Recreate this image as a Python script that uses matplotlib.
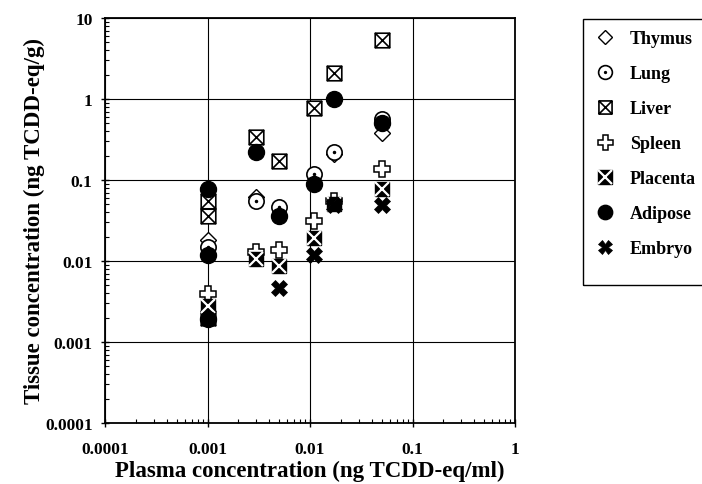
"""Tissue vs plasma TCDD-eq concentration, log-log scatter by tissue."""

import matplotlib

matplotlib.use("Agg")
import matplotlib.pyplot as plt
from matplotlib.patches import Rectangle
from matplotlib.path import Path

# plasma concentration (ng TCDD-eq/ml) and tissue concentration (ng TCDD-eq/g)
thymus_x = [0.001, 0.003, 0.017, 0.05]
thymus_y = [0.018, 0.062, 0.21, 0.38]

lung_x = [0.001, 0.003, 0.005, 0.011, 0.017, 0.05]
lung_y = [0.015, 0.055, 0.046, 0.12, 0.22, 0.56]

liver_x = [0.001, 0.001, 0.001, 0.003, 0.005, 0.011, 0.017, 0.05]
liver_y = [0.055, 0.036, 0.002, 0.34, 0.17, 0.77, 2.1, 5.3]

spleen_x = [0.001, 0.003, 0.005, 0.011, 0.017, 0.05]
spleen_y = [0.0039, 0.013, 0.0135, 0.031, 0.055, 0.135]

placenta_x = [0.001, 0.003, 0.005, 0.011, 0.017, 0.05]
placenta_y = [0.0028, 0.0105, 0.0086, 0.019, 0.05, 0.078]

adipose_x = [0.001, 0.001, 0.001, 0.003, 0.005, 0.011, 0.017, 0.05]
adipose_y = [0.078, 0.0118, 0.0019, 0.22, 0.036, 0.09, 1.0, 0.51]

embryo_x = [0.005, 0.011, 0.017, 0.05]
embryo_y = [0.0047, 0.012, 0.049, 0.049]

labels = ["Thymus", "Lung", "Liver", "Spleen", "Placenta", "Adipose", "Embryo"]

plt.rcParams["font.family"] = ["Liberation Serif", "DejaVu Serif"]
plt.rcParams["font.weight"] = "bold"

# square with both diagonals
boxx = Path(
    [(-1, -1), (1, -1), (1, 1), (-1, 1), (-1, -1), (-1, -1), (1, 1), (-1, 1), (1, -1)],
    [Path.MOVETO, Path.LINETO, Path.LINETO, Path.LINETO, Path.CLOSEPOLY,
     Path.MOVETO, Path.LINETO, Path.MOVETO, Path.LINETO],
)

W, H = 702, 485
fig = plt.figure(figsize=(W / 100, H / 100), dpi=100)
ax = fig.add_axes((105 / W, 1 - 424 / H, 410 / W, 405 / H))

kw = dict(linestyle="none", clip_on=False)
h_thy = ax.plot(thymus_x, thymus_y, marker="D", ms=8, mfc="white", mec="black", mew=1.0, **kw)[0]
h_lung = ax.plot(lung_x, lung_y, marker="o", ms=11, mfc="white", mec="black", mew=1.2, **kw)[0]
h_lung_dot = ax.plot(lung_x, lung_y, marker="o", ms=1.5, mfc="black", mec="black", **kw)[0]
h_liv = ax.plot(liver_x, liver_y, marker=boxx, ms=10.5, mfc="white", mec="black", mew=1.2, **kw)[0]
h_spl = ax.plot(spleen_x, spleen_y, marker="P", ms=12, mfc="white", mec="black", mew=1.1, **kw)[0]
h_pla = ax.plot(placenta_x, placenta_y, marker="s", ms=10.5, mfc="black", mec="black", mew=1.0, **kw)[0]
h_pla_x = ax.plot(placenta_x, placenta_y, marker="x", ms=10.5, mec="white", mew=1.6, **kw)[0]
h_adi = ax.plot(adipose_x, adipose_y, marker="o", ms=11.5, mfc="black", mec="black", **kw)[0]
h_emb = ax.plot(embryo_x, embryo_y, marker="X", ms=11, mfc="black", mec="black", mew=0.5, **kw)[0]

ax.set_xscale("log")
ax.set_yscale("log")
ax.set_xlim(1e-4, 1)
ax.set_ylim(1e-4, 10)

xticks = [0.0001, 0.001, 0.01, 0.1, 1]
yticks = [0.0001, 0.001, 0.01, 0.1, 1, 10]
ax.set_xticks(xticks, ["0.0001", "0.001", "0.01", "0.1", "1"])
ax.set_yticks(yticks, ["0.0001", "0.001", "0.01", "0.1", "1", "10"])
ax.tick_params(which="major", direction="inout", length=6, width=1.0, labelsize=12.5)
ax.tick_params(axis="x", which="major", pad=10)
ax.tick_params(axis="y", which="major", pad=6)
ax.tick_params(which="minor", direction="in", length=3, width=0.8)
ax.grid(which="major", color="black", linewidth=0.8)
for side in ax.spines.values():
    side.set_linewidth(1.3)

ax.set_xlabel("Plasma concentration (ng TCDD-eq/ml)", fontsize=16.5, fontweight="bold", labelpad=2)
ax.set_ylabel("Tissue concentration (ng TCDD-eq/g)", fontsize=16.5, fontweight="bold", labelpad=0)

handles = [h_thy, (h_lung, h_lung_dot), h_liv, h_spl, (h_pla, h_pla_x), h_adi, h_emb]
leg = fig.legend(
    handles,
    labels,
    loc="upper left",
    bbox_to_anchor=(583 / W, 1 - 20 / H),
    fontsize=13,
    markerscale=0.9,
    frameon=False,
    borderpad=0.6,
    labelspacing=1.0,
    handlelength=1.2,
    handletextpad=0.8,
    borderaxespad=0,
)

# legend box runs off the right edge of the figure
fig.patches.append(
    Rectangle((583 / W, 1 - 286 / H), 130 / W, 266 / H, transform=fig.transFigure,
              facecolor="none", edgecolor="black", linewidth=1.0, zorder=0)
)

fig.savefig("out.png", dpi=100)
